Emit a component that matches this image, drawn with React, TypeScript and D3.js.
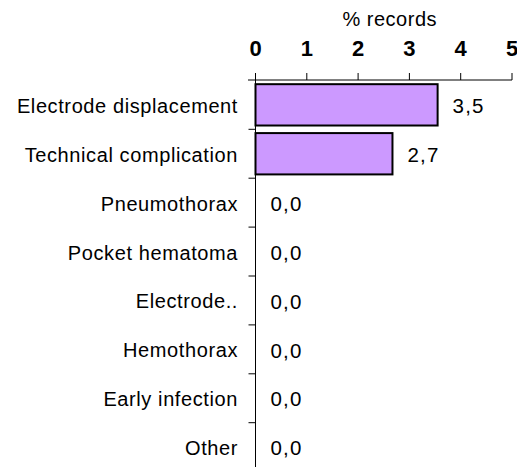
import React from "react";
import * as d3 from "d3";

const categories = [
  "Electrode displacement",
  "Technical complication",
  "Pneumothorax",
  "Pocket hematoma",
  "Electrode..",
  "Hemothorax",
  "Early infection",
  "Other",
];
const values = [3.55, 2.67, 0, 0, 0, 0, 0, 0];
const valueLabels = ["3,5", "2,7", "0,0", "0,0", "0,0", "0,0", "0,0", "0,0"];
const xTicks = [0, 1, 2, 3, 4, 5];
const axisTitle = "% records";

const W = 517;
const H = 467;
const x0 = 255.5;
const x1 = 512;
const yTop = 80.4;
const step = 48.9;
const FONT = "'Liberation Sans', Arial, sans-serif";

export default function App() {
  const x = d3.scaleLinear().domain([0, 5]).range([x0, x1]);
  const y = d3
    .scaleBand<string>()
    .domain(categories)
    .range([yTop, yTop + step * categories.length])
    .paddingInner(0.155)
    .paddingOuter(0.0775);
  const center = (c: string) => (y(c) as number) + y.bandwidth() / 2;
  const boundaries = categories.map((_, i) => yTop + step * (i + 1));

  return (
    <svg
      width={W}
      height={H}
      style={{ position: "absolute", left: 0, top: 0, background: "#fff" }}
      fontFamily={FONT}
    >
      <text x={(x0 + x1) / 2 + 6} y={26} textAnchor="middle" fontSize={20} letterSpacing={0.5} fill="#000">
        {axisTitle}
      </text>
      {xTicks.map((t) => (
        <text key={t} x={x(t)} y={56} textAnchor="middle" fontSize={22} fontWeight="bold" fill="#000">
          {t}
        </text>
      ))}
      <line x1={248} x2={x1} y1={80} y2={80} stroke="#000" strokeWidth={1} />
      {xTicks.map((t) => (
        <line key={"t" + t} x1={x(t)} x2={x(t)} y1={73} y2={80} stroke="#000" strokeWidth={1} />
      ))}
      {categories.map((c, i) =>
        values[i] > 0 ? (
          <rect
            key={"b" + c}
            x={x(0)}
            y={y(c)}
            width={x(values[i]) - x(0)}
            height={y.bandwidth()}
            fill="#cc99ff"
            stroke="#000"
            strokeWidth={2}
          />
        ) : null
      )}
      <line x1={x0} x2={x0} y1={73} y2={H} stroke="#000" strokeWidth={1} />
      {boundaries.map((b, i) => (
        <line key={"yt" + i} x1={x0 - 7} x2={x0} y1={b} y2={b} stroke="#000" strokeWidth={1} />
      ))}
      {categories.map((c) => (
        <text
          key={"l" + c}
          x={238}
          y={center(c) + 1}
          dy="0.35em"
          textAnchor="end"
          fontSize={20}
          letterSpacing={0.6}
          fill="#000"
        >
          {c}
        </text>
      ))}
      {categories.map((c, i) => (
        <text
          key={"v" + c}
          x={x(values[i]) + 15}
          y={center(c) + 1}
          dy="0.35em"
          textAnchor="start"
          fontSize={20.5}
          letterSpacing={1.2}
          fill="#000"
        >
          {valueLabels[i]}
        </text>
      ))}
    </svg>
  );
}
